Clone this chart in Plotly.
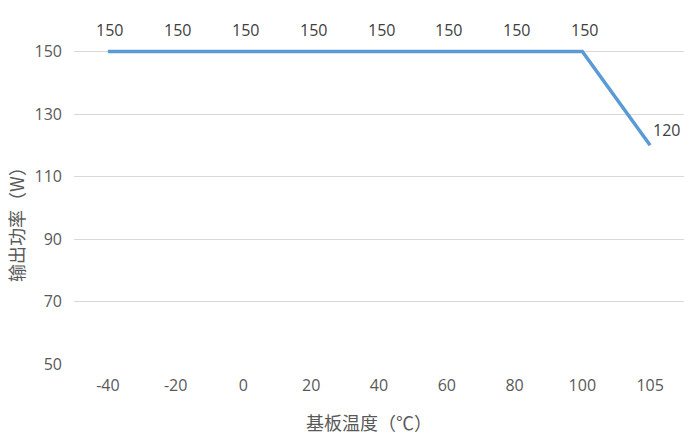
import plotly.graph_objects as go

temps = ["-40", "-20", "0", "20", "40", "60", "80", "100", "105"]
power = [150, 150, 150, 150, 150, 150, 150, 150, 120]

fig = go.Figure()
fig.add_trace(go.Scatter(
    x=temps, y=power,
    mode="lines",
    line=dict(color="#5B9BD5", width=3.5),
    hoverinfo="skip",
))

annotations = []
for i, v in enumerate(power):
    last = i == len(power) - 1
    annotations.append(dict(
        x=i, y=v, xref="x", yref="y", text=str(v), showarrow=False,
        xanchor="left" if last else "center", yanchor="middle",
        xshift=1 if last else 2, yshift=15 if last else 22,
        font=dict(family="Open Sans", size=16, color="#404040"),
    ))
annotations.append(dict(
    text="输出功率（W）", xref="paper", yref="paper", x=-0.095, y=0.396,
    xanchor="center", yanchor="middle", textangle=-90, showarrow=False,
    font=dict(family="Noto Sans CJK SC", size=18, color="#595959"),
))
annotations.append(dict(
    text="基板温度（℃）", xref="paper", yref="paper", x=0.4836, y=-0.159,
    xanchor="center", yanchor="middle", showarrow=False,
    font=dict(family="Noto Sans CJK SC", size=18, color="#595959"),
))

fig.update_layout(
    width=684, height=437,
    margin=dict(l=74, r=0, t=0, b=73, autoexpand=False),
    paper_bgcolor="white", plot_bgcolor="white",
    showlegend=False,
    font=dict(family="Open Sans, Noto Sans CJK SC", size=16, color="#595959"),
    annotations=annotations,
)
fig.update_xaxes(
    type="category", categoryorder="array", categoryarray=temps,
    range=[-0.5, len(temps) - 0.5], automargin=False,
    showgrid=False, zeroline=False, showline=False,
    ticks="", ticklabelstandoff=10, tickangle=0,
    tickfont=dict(size=16, color="#595959"),
)
fig.update_yaxes(
    range=[50, 166.5], tick0=50, dtick=20, automargin=False,
    showgrid=True, gridcolor="#D9D9D9", gridwidth=1,
    zeroline=False, showline=False, ticks="",
    tickfont=dict(size=16, color="#595959"),
    ticklabelstandoff=11,
)

fig.write_html(
    "out.html",
    config={"displayModeBar": False},
    post_script="document.body.style.margin='0';document.body.style.overflow='hidden';",
)
